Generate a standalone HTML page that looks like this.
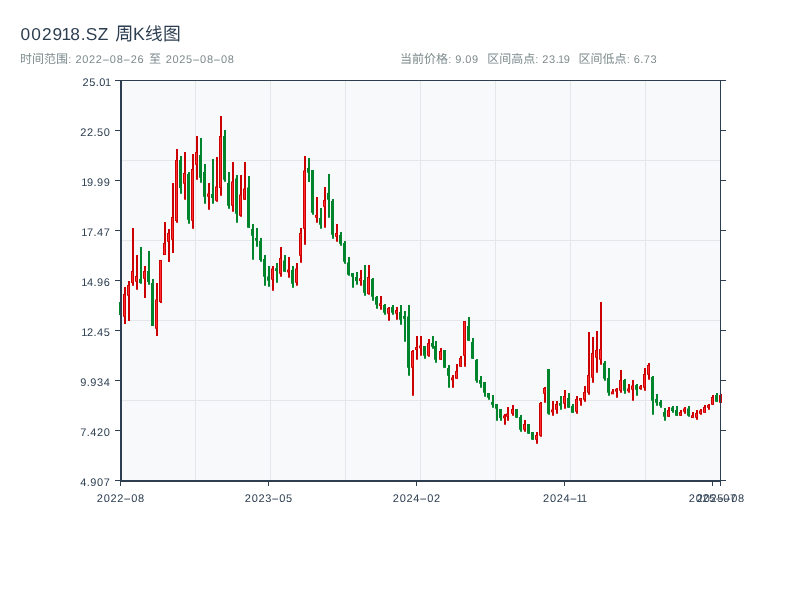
<!DOCTYPE html>
<html lang="zh"><head><meta charset="utf-8"><title>002918.SZ 周K线图</title>
<style>html,body{margin:0;padding:0;background:#fff;}body{width:800px;height:600px;overflow:hidden;font-family:"Liberation Sans",sans-serif;}svg{display:block;will-change:transform}svg text{font-family:"Liberation Sans","Noto Sans CJK SC",sans-serif;white-space:pre}svg path{shape-rendering:geometricPrecision}</style>
</head><body>
<svg width="800" height="600" viewBox="0 0 800 600" font-family="Liberation Sans, sans-serif" shape-rendering="crispEdges" text-rendering="geometricPrecision"><rect x="120" y="80" width="600" height="400" fill="#f8f9fa"/>
<rect x="195" y="80" width="1" height="400" fill="#e3e6ea"/>
<rect x="270" y="80" width="1" height="400" fill="#e3e6ea"/>
<rect x="345" y="80" width="1" height="400" fill="#e3e6ea"/>
<rect x="420" y="80" width="1" height="400" fill="#e3e6ea"/>
<rect x="495" y="80" width="1" height="400" fill="#e3e6ea"/>
<rect x="570" y="80" width="1" height="400" fill="#e3e6ea"/>
<rect x="645" y="80" width="1" height="400" fill="#e3e6ea"/>
<rect x="120" y="160" width="600" height="1" fill="#e3e6ea"/>
<rect x="120" y="240" width="600" height="1" fill="#e3e6ea"/>
<rect x="120" y="320" width="600" height="1" fill="#e3e6ea"/>
<rect x="120" y="400" width="600" height="1" fill="#e3e6ea"/>
<g shape-rendering="geometricPrecision"><rect x="120" y="300.0" width="2" height="17.00" fill="#00852c"/><rect x="119" y="302.00" width="3" height="13.00" fill="#00852c"/><rect x="124" y="287.0" width="2" height="37.00" fill="#cc0000"/><rect x="123" y="294.00" width="3" height="22.75" fill="#cc0000"/><rect x="124" y="294.90" width="1" height="20.95" fill="#ff2d2d"/><rect x="128" y="281.0" width="2" height="40.00" fill="#cc0000"/><rect x="127" y="285.00" width="3" height="10.75" fill="#cc0000"/><rect x="128" y="285.90" width="1" height="8.95" fill="#ff2d2d"/><rect x="132" y="228.0" width="2" height="57.75" fill="#cc0000"/><rect x="131" y="271.00" width="3" height="12.00" fill="#cc0000"/><rect x="132" y="271.90" width="1" height="10.20" fill="#ff2d2d"/><rect x="136" y="255.0" width="2" height="34.75" fill="#cc0000"/><rect x="135" y="276.00" width="3" height="5.75" fill="#cc0000"/><rect x="136" y="276.90" width="1" height="3.95" fill="#ff2d2d"/><rect x="140" y="247.0" width="2" height="36.75" fill="#00852c"/><rect x="139" y="279.00" width="3" height="4.00" fill="#00852c"/><rect x="144" y="266.0" width="2" height="32.00" fill="#cc0000"/><rect x="143" y="271.00" width="3" height="7.75" fill="#cc0000"/><rect x="144" y="271.90" width="1" height="5.95" fill="#ff2d2d"/><rect x="148" y="251.0" width="2" height="33.75" fill="#00852c"/><rect x="147" y="271.00" width="3" height="11.00" fill="#00852c"/><rect x="152" y="279.0" width="2" height="47.00" fill="#00852c"/><rect x="151" y="283.00" width="3" height="43.00" fill="#00852c"/><rect x="156" y="283.0" width="2" height="53.00" fill="#cc0000"/><rect x="155" y="299.50" width="3" height="29.25" fill="#cc0000"/><rect x="156" y="300.40" width="1" height="27.45" fill="#ff2d2d"/><rect x="160" y="260.0" width="2" height="43.00" fill="#cc0000"/><rect x="159" y="260.00" width="3" height="42.00" fill="#cc0000"/><rect x="160" y="260.90" width="1" height="40.20" fill="#ff2d2d"/><rect x="164" y="222.0" width="2" height="33.00" fill="#cc0000"/><rect x="163" y="243.00" width="3" height="12.00" fill="#cc0000"/><rect x="164" y="243.90" width="1" height="10.20" fill="#ff2d2d"/><rect x="168" y="229.0" width="2" height="33.00" fill="#cc0000"/><rect x="167" y="233.00" width="3" height="8.75" fill="#cc0000"/><rect x="168" y="233.90" width="1" height="6.95" fill="#ff2d2d"/><rect x="172" y="183.0" width="2" height="70.00" fill="#cc0000"/><rect x="171" y="217.00" width="3" height="22.75" fill="#cc0000"/><rect x="172" y="217.90" width="1" height="20.95" fill="#ff2d2d"/><rect x="176" y="149.0" width="2" height="73.75" fill="#cc0000"/><rect x="175" y="160.00" width="3" height="61.00" fill="#cc0000"/><rect x="176" y="160.90" width="1" height="59.20" fill="#ff2d2d"/><rect x="180" y="156.0" width="2" height="37.75" fill="#00852c"/><rect x="179" y="160.00" width="3" height="28.00" fill="#00852c"/><rect x="184" y="152.0" width="2" height="47.75" fill="#cc0000"/><rect x="183" y="173.00" width="3" height="10.75" fill="#cc0000"/><rect x="184" y="173.90" width="1" height="8.95" fill="#ff2d2d"/><rect x="188" y="172.0" width="2" height="51.75" fill="#00852c"/><rect x="187" y="174.00" width="3" height="45.75" fill="#00852c"/><rect x="192" y="154.0" width="2" height="74.75" fill="#cc0000"/><rect x="191" y="169.00" width="3" height="51.75" fill="#cc0000"/><rect x="192" y="169.90" width="1" height="49.95" fill="#ff2d2d"/><rect x="196" y="136.0" width="2" height="43.75" fill="#cc0000"/><rect x="195" y="152.00" width="3" height="12.75" fill="#cc0000"/><rect x="196" y="152.90" width="1" height="10.95" fill="#ff2d2d"/><rect x="200" y="138.0" width="2" height="44.75" fill="#00852c"/><rect x="199" y="155.00" width="3" height="22.75" fill="#00852c"/><rect x="204" y="164.0" width="2" height="39.75" fill="#00852c"/><rect x="203" y="172.00" width="3" height="24.75" fill="#00852c"/><rect x="208" y="183.0" width="2" height="26.75" fill="#cc0000"/><rect x="207" y="193.50" width="3" height="3.25" fill="#cc0000"/><rect x="208" y="194.40" width="1" height="1.45" fill="#ff2d2d"/><rect x="212" y="159.0" width="2" height="44.75" fill="#00852c"/><rect x="211" y="194.00" width="3" height="4.00" fill="#00852c"/><rect x="216" y="157.0" width="2" height="44.75" fill="#cc0000"/><rect x="215" y="186.50" width="3" height="14.25" fill="#cc0000"/><rect x="216" y="187.40" width="1" height="12.45" fill="#ff2d2d"/><rect x="220" y="116.0" width="2" height="79.75" fill="#cc0000"/><rect x="219" y="136.00" width="3" height="52.00" fill="#cc0000"/><rect x="220" y="136.90" width="1" height="50.20" fill="#ff2d2d"/><rect x="224" y="130.0" width="2" height="51.75" fill="#00852c"/><rect x="223" y="136.00" width="3" height="43.75" fill="#00852c"/><rect x="228" y="172.0" width="2" height="36.75" fill="#00852c"/><rect x="227" y="183.00" width="3" height="22.75" fill="#00852c"/><rect x="232" y="162.0" width="2" height="49.75" fill="#cc0000"/><rect x="231" y="181.50" width="3" height="24.25" fill="#cc0000"/><rect x="232" y="182.40" width="1" height="22.45" fill="#ff2d2d"/><rect x="236" y="175.0" width="2" height="47.75" fill="#00852c"/><rect x="235" y="178.50" width="3" height="35.25" fill="#00852c"/><rect x="240" y="175.0" width="2" height="41.75" fill="#cc0000"/><rect x="239" y="194.50" width="3" height="21.25" fill="#cc0000"/><rect x="240" y="195.40" width="1" height="19.45" fill="#ff2d2d"/><rect x="244" y="162.0" width="2" height="37.75" fill="#cc0000"/><rect x="243" y="188.50" width="3" height="11.25" fill="#cc0000"/><rect x="244" y="189.40" width="1" height="9.45" fill="#ff2d2d"/><rect x="248" y="176.0" width="2" height="51.75" fill="#00852c"/><rect x="247" y="187.50" width="3" height="40.25" fill="#00852c"/><rect x="252" y="224.0" width="2" height="35.75" fill="#00852c"/><rect x="251" y="229.00" width="3" height="6.75" fill="#00852c"/><rect x="256" y="228.0" width="2" height="18.75" fill="#00852c"/><rect x="255" y="237.97" width="3" height="2.80" fill="#00852c"/><rect x="260" y="238.0" width="2" height="23.75" fill="#00852c"/><rect x="259" y="241.00" width="3" height="19.00" fill="#00852c"/><rect x="264" y="255.0" width="2" height="30.75" fill="#00852c"/><rect x="263" y="259.00" width="3" height="17.75" fill="#00852c"/><rect x="268" y="266.0" width="2" height="20.75" fill="#00852c"/><rect x="267" y="276.50" width="3" height="4.25" fill="#00852c"/><rect x="272" y="266.0" width="2" height="24.75" fill="#cc0000"/><rect x="271" y="268.50" width="3" height="11.25" fill="#cc0000"/><rect x="272" y="269.40" width="1" height="9.45" fill="#ff2d2d"/><rect x="276" y="263.0" width="2" height="19.75" fill="#00852c"/><rect x="275" y="268.23" width="3" height="2.80" fill="#00852c"/><rect x="280" y="247.0" width="2" height="29.75" fill="#cc0000"/><rect x="279" y="258.00" width="3" height="15.75" fill="#cc0000"/><rect x="280" y="258.90" width="1" height="13.95" fill="#ff2d2d"/><rect x="284" y="255.0" width="2" height="16.75" fill="#00852c"/><rect x="283" y="260.50" width="3" height="11.25" fill="#00852c"/><rect x="288" y="257.0" width="2" height="20.75" fill="#cc0000"/><rect x="287" y="269.60" width="3" height="2.80" fill="#cc0000"/><rect x="288" y="270.50" width="1" height="1.00" fill="#ff2d2d"/><rect x="292" y="266.0" width="2" height="21.75" fill="#00852c"/><rect x="291" y="270.00" width="3" height="13.75" fill="#00852c"/><rect x="296" y="263.0" width="2" height="22.75" fill="#cc0000"/><rect x="295" y="268.50" width="3" height="14.25" fill="#cc0000"/><rect x="296" y="269.40" width="1" height="12.45" fill="#ff2d2d"/><rect x="300" y="228.0" width="2" height="34.75" fill="#cc0000"/><rect x="299" y="233.00" width="3" height="22.75" fill="#cc0000"/><rect x="300" y="233.90" width="1" height="20.95" fill="#ff2d2d"/><rect x="304" y="156.0" width="2" height="88.75" fill="#cc0000"/><rect x="303" y="170.50" width="3" height="58.25" fill="#cc0000"/><rect x="304" y="171.40" width="1" height="56.45" fill="#ff2d2d"/><rect x="308" y="158.0" width="2" height="24.00" fill="#00852c"/><rect x="307" y="168.00" width="3" height="4.75" fill="#00852c"/><rect x="312" y="170.0" width="2" height="44.75" fill="#00852c"/><rect x="311" y="170.00" width="3" height="42.75" fill="#00852c"/><rect x="316" y="197.0" width="2" height="25.75" fill="#cc0000"/><rect x="315" y="214.97" width="3" height="2.80" fill="#cc0000"/><rect x="316" y="215.88" width="1" height="1.00" fill="#ff2d2d"/><rect x="320" y="208.0" width="2" height="20.75" fill="#00852c"/><rect x="319" y="218.00" width="3" height="6.75" fill="#00852c"/><rect x="324" y="187.0" width="2" height="40.75" fill="#cc0000"/><rect x="323" y="200.00" width="3" height="6.75" fill="#cc0000"/><rect x="324" y="200.90" width="1" height="4.95" fill="#ff2d2d"/><rect x="328" y="174.0" width="2" height="43.75" fill="#00852c"/><rect x="327" y="193.00" width="3" height="6.75" fill="#00852c"/><rect x="332" y="199.0" width="2" height="39.75" fill="#00852c"/><rect x="331" y="201.00" width="3" height="33.75" fill="#00852c"/><rect x="336" y="224.0" width="2" height="17.75" fill="#cc0000"/><rect x="335" y="233.00" width="3" height="3.75" fill="#cc0000"/><rect x="336" y="233.90" width="1" height="1.95" fill="#ff2d2d"/><rect x="340" y="232.0" width="2" height="13.75" fill="#00852c"/><rect x="339" y="235.00" width="3" height="8.75" fill="#00852c"/><rect x="344" y="241.0" width="2" height="22.75" fill="#00852c"/><rect x="343" y="243.00" width="3" height="18.75" fill="#00852c"/><rect x="348" y="257.0" width="2" height="18.75" fill="#00852c"/><rect x="347" y="262.50" width="3" height="12.25" fill="#00852c"/><rect x="352" y="273.0" width="2" height="14.75" fill="#00852c"/><rect x="351" y="273.00" width="3" height="3.75" fill="#00852c"/><rect x="356" y="272.0" width="2" height="12.75" fill="#00852c"/><rect x="355" y="277.00" width="3" height="4.00" fill="#00852c"/><rect x="360" y="270.0" width="2" height="15.75" fill="#cc0000"/><rect x="359" y="278.23" width="3" height="2.80" fill="#cc0000"/><rect x="360" y="279.12" width="1" height="1.00" fill="#ff2d2d"/><rect x="364" y="265.0" width="2" height="30.75" fill="#00852c"/><rect x="363" y="280.00" width="3" height="12.75" fill="#00852c"/><rect x="368" y="265.0" width="2" height="29.75" fill="#cc0000"/><rect x="367" y="277.00" width="3" height="17.00" fill="#cc0000"/><rect x="368" y="277.90" width="1" height="15.20" fill="#ff2d2d"/><rect x="372" y="278.0" width="2" height="22.75" fill="#00852c"/><rect x="371" y="279.00" width="3" height="17.75" fill="#00852c"/><rect x="376" y="296.0" width="2" height="12.75" fill="#00852c"/><rect x="375" y="297.00" width="3" height="7.75" fill="#00852c"/><rect x="380" y="296.0" width="2" height="13.75" fill="#cc0000"/><rect x="379" y="303.23" width="3" height="2.80" fill="#cc0000"/><rect x="380" y="304.12" width="1" height="1.00" fill="#ff2d2d"/><rect x="384" y="304.0" width="2" height="10.75" fill="#00852c"/><rect x="383" y="305.00" width="3" height="7.75" fill="#00852c"/><rect x="388" y="307.0" width="2" height="13.75" fill="#cc0000"/><rect x="387" y="308.00" width="3" height="5.75" fill="#cc0000"/><rect x="388" y="308.90" width="1" height="3.95" fill="#ff2d2d"/><rect x="392" y="305.0" width="2" height="9.75" fill="#00852c"/><rect x="391" y="307.00" width="3" height="5.75" fill="#00852c"/><rect x="396" y="307.0" width="2" height="12.75" fill="#cc0000"/><rect x="395" y="310.00" width="3" height="3.75" fill="#cc0000"/><rect x="396" y="310.90" width="1" height="1.95" fill="#ff2d2d"/><rect x="400" y="305.0" width="2" height="19.75" fill="#00852c"/><rect x="399" y="312.00" width="3" height="7.75" fill="#00852c"/><rect x="404" y="311.0" width="2" height="30.75" fill="#00852c"/><rect x="403" y="315.98" width="3" height="2.80" fill="#00852c"/><rect x="408" y="305.0" width="2" height="70.75" fill="#00852c"/><rect x="407" y="316.50" width="3" height="51.25" fill="#00852c"/><rect x="412" y="350.0" width="2" height="45.75" fill="#cc0000"/><rect x="411" y="351.00" width="3" height="16.75" fill="#cc0000"/><rect x="412" y="351.90" width="1" height="14.95" fill="#ff2d2d"/><rect x="416" y="336.0" width="2" height="23.75" fill="#cc0000"/><rect x="415" y="347.00" width="3" height="3.00" fill="#cc0000"/><rect x="416" y="347.90" width="1" height="1.20" fill="#ff2d2d"/><rect x="420" y="336.0" width="2" height="19.75" fill="#cc0000"/><rect x="419" y="345.48" width="3" height="2.80" fill="#cc0000"/><rect x="420" y="346.38" width="1" height="1.00" fill="#ff2d2d"/><rect x="424" y="346.0" width="2" height="12.75" fill="#00852c"/><rect x="423" y="346.00" width="3" height="9.75" fill="#00852c"/><rect x="428" y="339.0" width="2" height="17.75" fill="#cc0000"/><rect x="427" y="343.00" width="3" height="12.75" fill="#cc0000"/><rect x="428" y="343.90" width="1" height="10.95" fill="#ff2d2d"/><rect x="432" y="336.0" width="2" height="12.75" fill="#00852c"/><rect x="431" y="343.00" width="3" height="3.75" fill="#00852c"/><rect x="435" y="341.0" width="2" height="21.75" fill="#00852c"/><rect x="434" y="346.00" width="3" height="13.75" fill="#00852c"/><rect x="440" y="348.0" width="2" height="11.75" fill="#cc0000"/><rect x="439" y="351.00" width="3" height="8.75" fill="#cc0000"/><rect x="440" y="351.90" width="1" height="6.95" fill="#ff2d2d"/><rect x="444" y="350.0" width="2" height="17.75" fill="#00852c"/><rect x="443" y="350.00" width="3" height="17.75" fill="#00852c"/><rect x="448" y="365.0" width="2" height="22.75" fill="#00852c"/><rect x="447" y="368.00" width="3" height="7.75" fill="#00852c"/><rect x="452" y="375.0" width="2" height="12.75" fill="#cc0000"/><rect x="451" y="377.48" width="3" height="2.80" fill="#cc0000"/><rect x="452" y="378.38" width="1" height="1.00" fill="#ff2d2d"/><rect x="456" y="364.0" width="2" height="14.75" fill="#cc0000"/><rect x="455" y="371.00" width="3" height="7.75" fill="#cc0000"/><rect x="456" y="371.90" width="1" height="5.95" fill="#ff2d2d"/><rect x="460" y="356.0" width="2" height="10.75" fill="#cc0000"/><rect x="459" y="358.00" width="3" height="8.75" fill="#cc0000"/><rect x="460" y="358.90" width="1" height="6.95" fill="#ff2d2d"/><rect x="464" y="321.0" width="2" height="45.75" fill="#cc0000"/><rect x="463" y="321.00" width="3" height="34.75" fill="#cc0000"/><rect x="464" y="321.90" width="1" height="32.95" fill="#ff2d2d"/><rect x="468" y="317.0" width="2" height="23.75" fill="#00852c"/><rect x="467" y="326.00" width="3" height="14.75" fill="#00852c"/><rect x="472" y="338.0" width="2" height="20.75" fill="#00852c"/><rect x="471" y="342.00" width="3" height="16.75" fill="#00852c"/><rect x="476" y="359.0" width="2" height="23.75" fill="#00852c"/><rect x="475" y="360.00" width="3" height="20.75" fill="#00852c"/><rect x="480" y="376.0" width="2" height="11.75" fill="#00852c"/><rect x="479" y="380.00" width="3" height="3.75" fill="#00852c"/><rect x="484" y="382.0" width="2" height="14.75" fill="#00852c"/><rect x="483" y="382.00" width="3" height="10.75" fill="#00852c"/><rect x="488" y="393.0" width="2" height="6.75" fill="#00852c"/><rect x="487" y="393.00" width="3" height="4.75" fill="#00852c"/><rect x="492" y="395.0" width="2" height="12.75" fill="#00852c"/><rect x="491" y="401.98" width="3" height="2.80" fill="#00852c"/><rect x="496" y="404.0" width="2" height="16.75" fill="#00852c"/><rect x="495" y="404.00" width="3" height="4.75" fill="#00852c"/><rect x="500" y="409.0" width="2" height="11.75" fill="#00852c"/><rect x="499" y="409.00" width="3" height="9.00" fill="#00852c"/><rect x="504" y="414.0" width="2" height="10.75" fill="#cc0000"/><rect x="503" y="415.48" width="3" height="2.80" fill="#cc0000"/><rect x="504" y="416.38" width="1" height="1.00" fill="#ff2d2d"/><rect x="507" y="407.0" width="2" height="13.75" fill="#cc0000"/><rect x="506" y="413.50" width="3" height="3.25" fill="#cc0000"/><rect x="507" y="414.40" width="1" height="1.45" fill="#ff2d2d"/><rect x="512" y="405.0" width="2" height="10.75" fill="#cc0000"/><rect x="511" y="409.00" width="3" height="4.75" fill="#cc0000"/><rect x="512" y="409.90" width="1" height="2.95" fill="#ff2d2d"/><rect x="516" y="409.0" width="2" height="8.75" fill="#00852c"/><rect x="515" y="409.00" width="3" height="8.75" fill="#00852c"/><rect x="520" y="415.0" width="2" height="16.75" fill="#00852c"/><rect x="519" y="417.00" width="3" height="12.75" fill="#00852c"/><rect x="524" y="420.0" width="2" height="11.75" fill="#cc0000"/><rect x="523" y="424.00" width="3" height="5.75" fill="#cc0000"/><rect x="524" y="424.90" width="1" height="3.95" fill="#ff2d2d"/><rect x="528" y="424.0" width="2" height="9.75" fill="#00852c"/><rect x="527" y="424.00" width="3" height="9.75" fill="#00852c"/><rect x="532" y="432.0" width="2" height="7.75" fill="#00852c"/><rect x="531" y="432.00" width="3" height="7.75" fill="#00852c"/><rect x="536" y="432.0" width="2" height="11.75" fill="#cc0000"/><rect x="535" y="435.00" width="3" height="4.75" fill="#cc0000"/><rect x="536" y="435.90" width="1" height="2.95" fill="#ff2d2d"/><rect x="540" y="402.0" width="2" height="34.75" fill="#cc0000"/><rect x="539" y="403.00" width="3" height="32.75" fill="#cc0000"/><rect x="540" y="403.90" width="1" height="30.95" fill="#ff2d2d"/><rect x="544" y="387.0" width="2" height="15.75" fill="#cc0000"/><rect x="543" y="388.00" width="3" height="5.75" fill="#cc0000"/><rect x="544" y="388.90" width="1" height="3.95" fill="#ff2d2d"/><rect x="548" y="369.0" width="2" height="45.75" fill="#00852c"/><rect x="547" y="369.00" width="3" height="44.75" fill="#00852c"/><rect x="552" y="401.0" width="2" height="14.75" fill="#cc0000"/><rect x="551" y="409.48" width="3" height="2.80" fill="#cc0000"/><rect x="552" y="410.38" width="1" height="1.00" fill="#ff2d2d"/><rect x="556" y="401.0" width="2" height="12.75" fill="#cc0000"/><rect x="555" y="404.00" width="3" height="5.75" fill="#cc0000"/><rect x="556" y="404.90" width="1" height="3.95" fill="#ff2d2d"/><rect x="560" y="396.0" width="2" height="13.75" fill="#00852c"/><rect x="559" y="402.98" width="3" height="2.80" fill="#00852c"/><rect x="564" y="390.0" width="2" height="18.75" fill="#cc0000"/><rect x="563" y="396.00" width="3" height="7.75" fill="#cc0000"/><rect x="564" y="396.90" width="1" height="5.95" fill="#ff2d2d"/><rect x="568" y="393.0" width="2" height="14.75" fill="#00852c"/><rect x="567" y="398.00" width="3" height="9.75" fill="#00852c"/><rect x="572" y="404.0" width="2" height="9.00" fill="#00852c"/><rect x="571" y="406.00" width="3" height="6.75" fill="#00852c"/><rect x="576" y="396.0" width="2" height="17.75" fill="#cc0000"/><rect x="575" y="399.00" width="3" height="12.75" fill="#cc0000"/><rect x="576" y="399.90" width="1" height="10.95" fill="#ff2d2d"/><rect x="580" y="398.0" width="2" height="7.75" fill="#cc0000"/><rect x="579" y="397.98" width="3" height="2.80" fill="#cc0000"/><rect x="580" y="398.88" width="1" height="1.00" fill="#ff2d2d"/><rect x="584" y="386.0" width="2" height="15.75" fill="#cc0000"/><rect x="583" y="392.00" width="3" height="7.75" fill="#cc0000"/><rect x="584" y="392.90" width="1" height="5.95" fill="#ff2d2d"/><rect x="588" y="332.0" width="2" height="62.75" fill="#cc0000"/><rect x="587" y="375.00" width="3" height="17.75" fill="#cc0000"/><rect x="588" y="375.90" width="1" height="15.95" fill="#ff2d2d"/><rect x="592" y="337.0" width="2" height="45.75" fill="#cc0000"/><rect x="591" y="353.00" width="3" height="24.75" fill="#cc0000"/><rect x="592" y="353.90" width="1" height="22.95" fill="#ff2d2d"/><rect x="596" y="331.0" width="2" height="41.75" fill="#cc0000"/><rect x="595" y="350.00" width="3" height="7.75" fill="#cc0000"/><rect x="596" y="350.90" width="1" height="5.95" fill="#ff2d2d"/><rect x="600" y="302.0" width="2" height="62.75" fill="#cc0000"/><rect x="599" y="349.00" width="3" height="10.75" fill="#cc0000"/><rect x="600" y="349.90" width="1" height="8.95" fill="#ff2d2d"/><rect x="604" y="361.0" width="2" height="19.75" fill="#00852c"/><rect x="603" y="363.00" width="3" height="15.75" fill="#00852c"/><rect x="608" y="368.0" width="2" height="27.75" fill="#00852c"/><rect x="607" y="378.00" width="3" height="14.75" fill="#00852c"/><rect x="612" y="389.0" width="2" height="4.75" fill="#cc0000"/><rect x="611" y="391.48" width="3" height="2.80" fill="#cc0000"/><rect x="612" y="392.38" width="1" height="1.00" fill="#ff2d2d"/><rect x="616" y="388.0" width="2" height="9.75" fill="#cc0000"/><rect x="615" y="388.85" width="3" height="2.80" fill="#cc0000"/><rect x="616" y="389.75" width="1" height="1.00" fill="#ff2d2d"/><rect x="620" y="370.0" width="2" height="22.75" fill="#cc0000"/><rect x="619" y="380.00" width="3" height="10.75" fill="#cc0000"/><rect x="620" y="380.90" width="1" height="8.95" fill="#ff2d2d"/><rect x="624" y="379.0" width="2" height="14.75" fill="#00852c"/><rect x="623" y="380.00" width="3" height="10.75" fill="#00852c"/><rect x="628" y="384.0" width="2" height="8.75" fill="#cc0000"/><rect x="627" y="388.48" width="3" height="2.80" fill="#cc0000"/><rect x="628" y="389.38" width="1" height="1.00" fill="#ff2d2d"/><rect x="632" y="380.0" width="2" height="20.75" fill="#cc0000"/><rect x="631" y="385.50" width="3" height="4.25" fill="#cc0000"/><rect x="632" y="386.40" width="1" height="2.45" fill="#ff2d2d"/><rect x="636" y="384.0" width="2" height="11.75" fill="#00852c"/><rect x="635" y="385.00" width="3" height="4.75" fill="#00852c"/><rect x="640" y="385.0" width="2" height="4.75" fill="#cc0000"/><rect x="639" y="386.23" width="3" height="2.80" fill="#cc0000"/><rect x="640" y="387.12" width="1" height="1.00" fill="#ff2d2d"/><rect x="644" y="368.0" width="2" height="22.75" fill="#cc0000"/><rect x="643" y="374.00" width="3" height="13.75" fill="#cc0000"/><rect x="644" y="374.90" width="1" height="11.95" fill="#ff2d2d"/><rect x="648" y="363.0" width="2" height="16.75" fill="#cc0000"/><rect x="647" y="365.00" width="3" height="9.75" fill="#cc0000"/><rect x="648" y="365.90" width="1" height="7.95" fill="#ff2d2d"/><rect x="652" y="376.0" width="2" height="38.75" fill="#00852c"/><rect x="651" y="377.00" width="3" height="23.75" fill="#00852c"/><rect x="656" y="394.0" width="2" height="11.75" fill="#00852c"/><rect x="655" y="399.00" width="3" height="3.75" fill="#00852c"/><rect x="660" y="400.0" width="2" height="7.75" fill="#00852c"/><rect x="659" y="402.00" width="3" height="3.75" fill="#00852c"/><rect x="664" y="408.0" width="2" height="12.75" fill="#00852c"/><rect x="663" y="412.00" width="3" height="4.75" fill="#00852c"/><rect x="668" y="407.0" width="2" height="9.75" fill="#cc0000"/><rect x="667" y="410.00" width="3" height="6.75" fill="#cc0000"/><rect x="668" y="410.90" width="1" height="4.95" fill="#ff2d2d"/><rect x="672" y="406.0" width="2" height="6.75" fill="#00852c"/><rect x="671" y="407.50" width="3" height="3.50" fill="#00852c"/><rect x="676" y="406.0" width="2" height="9.75" fill="#00852c"/><rect x="675" y="410.00" width="3" height="5.75" fill="#00852c"/><rect x="680" y="410.0" width="2" height="5.75" fill="#cc0000"/><rect x="679" y="412.00" width="3" height="3.75" fill="#cc0000"/><rect x="680" y="412.90" width="1" height="1.95" fill="#ff2d2d"/><rect x="684" y="407.0" width="2" height="6.75" fill="#cc0000"/><rect x="683" y="408.50" width="3" height="3.25" fill="#cc0000"/><rect x="684" y="409.40" width="1" height="1.45" fill="#ff2d2d"/><rect x="688" y="406.0" width="2" height="10.75" fill="#00852c"/><rect x="687" y="408.50" width="3" height="7.25" fill="#00852c"/><rect x="692" y="412.0" width="2" height="5.75" fill="#cc0000"/><rect x="691" y="415.23" width="3" height="2.80" fill="#cc0000"/><rect x="692" y="416.12" width="1" height="1.00" fill="#ff2d2d"/><rect x="696" y="410.0" width="2" height="9.75" fill="#cc0000"/><rect x="695" y="413.00" width="3" height="4.75" fill="#cc0000"/><rect x="696" y="413.90" width="1" height="2.95" fill="#ff2d2d"/><rect x="700" y="409.0" width="2" height="5.75" fill="#cc0000"/><rect x="699" y="410.50" width="3" height="3.25" fill="#cc0000"/><rect x="700" y="411.40" width="1" height="1.45" fill="#ff2d2d"/><rect x="704" y="405.0" width="2" height="7.75" fill="#cc0000"/><rect x="703" y="407.00" width="3" height="5.75" fill="#cc0000"/><rect x="704" y="407.90" width="1" height="3.95" fill="#ff2d2d"/><rect x="708" y="404.0" width="2" height="5.75" fill="#cc0000"/><rect x="707" y="404.98" width="3" height="2.80" fill="#cc0000"/><rect x="708" y="405.88" width="1" height="1.00" fill="#ff2d2d"/><rect x="712" y="395.0" width="2" height="9.75" fill="#cc0000"/><rect x="711" y="397.00" width="3" height="7.75" fill="#cc0000"/><rect x="712" y="397.90" width="1" height="5.95" fill="#ff2d2d"/><rect x="716" y="393.0" width="2" height="8.75" fill="#00852c"/><rect x="715" y="395.00" width="3" height="6.75" fill="#00852c"/><rect x="720" y="394.0" width="2" height="8.75" fill="#cc0000"/><rect x="719" y="395.00" width="3" height="7.75" fill="#cc0000"/><rect x="720" y="395.90" width="1" height="5.95" fill="#ff2d2d"/></g>
<rect x="115" y="80" width="611" height="1" fill="#2c3e50"/>
<rect x="720" y="80" width="1" height="402" fill="#2c3e50"/>
<rect x="120" y="80" width="2" height="402" fill="#2c3e50"/>
<rect x="120" y="480" width="601" height="2" fill="#2c3e50"/>
<rect x="115" y="80" width="5" height="1" fill="#2c3e50"/>
<rect x="721" y="80" width="5" height="1" fill="#2c3e50"/>
<rect x="115" y="130" width="5" height="1" fill="#2c3e50"/>
<rect x="721" y="130" width="5" height="1" fill="#2c3e50"/>
<rect x="115" y="180" width="5" height="1" fill="#2c3e50"/>
<rect x="721" y="180" width="5" height="1" fill="#2c3e50"/>
<rect x="115" y="230" width="5" height="1" fill="#2c3e50"/>
<rect x="721" y="230" width="5" height="1" fill="#2c3e50"/>
<rect x="115" y="280" width="5" height="1" fill="#2c3e50"/>
<rect x="721" y="280" width="5" height="1" fill="#2c3e50"/>
<rect x="115" y="330" width="5" height="1" fill="#2c3e50"/>
<rect x="721" y="330" width="5" height="1" fill="#2c3e50"/>
<rect x="115" y="380" width="5" height="1" fill="#2c3e50"/>
<rect x="721" y="380" width="5" height="1" fill="#2c3e50"/>
<rect x="115" y="430" width="5" height="1" fill="#2c3e50"/>
<rect x="721" y="430" width="5" height="1" fill="#2c3e50"/>
<rect x="115" y="480" width="5" height="1" fill="#2c3e50"/>
<rect x="721" y="480" width="5" height="1" fill="#2c3e50"/>
<rect x="120" y="482" width="1" height="4" fill="#2c3e50"/>
<rect x="268" y="482" width="1" height="4" fill="#2c3e50"/>
<rect x="416" y="482" width="1" height="4" fill="#2c3e50"/>
<rect x="564" y="482" width="1" height="4" fill="#2c3e50"/>
<rect x="712" y="482" width="1" height="4" fill="#2c3e50"/>
<rect x="720" y="482" width="1" height="4" fill="#2c3e50"/>
<text x="82.46 89.25 95.82 99.34 104.99" y="85.50" font-size="11" fill="#2c3e50">25.01</text>
<text x="80.19 86.97 93.55 97.06 103.85" y="135.50" font-size="11" fill="#2c3e50">22.50</text>
<text x="81.33 86.97 93.55 97.06 103.85" y="185.50" font-size="11" fill="#2c3e50">19.99</text>
<text x="81.33 86.97 93.55 97.06 103.85" y="235.50" font-size="11" fill="#2c3e50">17.47</text>
<text x="81.33 86.97 93.55 97.06 103.85" y="285.50" font-size="11" fill="#2c3e50">14.96</text>
<text x="81.33 86.97 93.55 97.06 103.85" y="335.50" font-size="11" fill="#2c3e50">12.45</text>
<text x="80.19 86.76 90.27 97.06 103.85" y="385.50" font-size="11" fill="#2c3e50">9.934</text>
<text x="80.19 86.76 90.27 97.06 103.85" y="435.50" font-size="11" fill="#2c3e50">7.420</text>
<text x="80.19 86.76 90.27 97.06 103.85" y="485.50" font-size="11" fill="#2c3e50">4.907</text>
<text x="96.84 103.63 110.42 117.20 123.34 131.25 138.04" y="502.30" font-size="11" fill="#2c3e50">2022<tspan textLength="7.89" lengthAdjust="spacingAndGlyphs">-</tspan>08</text>
<text x="244.84 251.63 258.42 265.20 271.34 279.25 286.04" y="502.30" font-size="11" fill="#2c3e50">2023<tspan textLength="7.89" lengthAdjust="spacingAndGlyphs">-</tspan>05</text>
<text x="392.84 399.63 406.42 413.20 419.34 427.25 434.04" y="502.30" font-size="11" fill="#2c3e50">2024<tspan textLength="7.89" lengthAdjust="spacingAndGlyphs">-</tspan>02</text>
<text x="543.12 549.91 556.69 563.48 569.62 576.39 580.90" y="502.30" font-size="11" fill="#2c3e50">2024<tspan textLength="7.89" lengthAdjust="spacingAndGlyphs">-</tspan>11</text>
<text x="688.84 695.63 702.42 709.20 715.34 723.25 730.04" y="502.30" font-size="11" fill="#2c3e50">2025<tspan textLength="7.89" lengthAdjust="spacingAndGlyphs">-</tspan>07</text>
<text x="696.84 703.63 710.42 717.20 723.34 731.25 738.04" y="502.30" font-size="11" fill="#2c3e50">2025<tspan textLength="7.89" lengthAdjust="spacingAndGlyphs">-</tspan>08</text>
<text x="20.53 31.22 41.91 52.61 61.48 70.35 80.73 85.76 97.77" y="39.80" font-size="17.33" fill="#2c3e50">002918.SZ</text>
<text x="115.30" y="40.10" font-size="18.2" fill="#2c3e50">周</text>
<text x="144.97" y="40.10" font-size="17.6" fill="#2c3e50">线</text>
<text x="163.00" y="40.10" font-size="17.8" fill="#2c3e50">图</text>
<text x="133.1" y="39.8" font-size="17.8" fill="#2c3e50">K</text>
<text x="20.00" y="63.30" font-size="12" fill="#7f8c8d">时间范围</text><text x="68.17" y="62.70" font-size="11" fill="#7f8c8d">:</text>
<text x="75.43 82.22 89.01 95.80 101.93 109.84 116.63 122.77 130.68 137.46" y="62.70" font-size="11" fill="#7f8c8d">2022<tspan textLength="7.89" lengthAdjust="spacingAndGlyphs">-</tspan>08<tspan textLength="7.89" lengthAdjust="spacingAndGlyphs">-</tspan>26</text>
<text x="148.90" y="63.30" font-size="12" fill="#7f8c8d">至</text>
<text x="165.68 172.47 179.26 186.05 192.18 200.09 206.88 213.02 220.93 227.71" y="62.70" font-size="11" fill="#7f8c8d">2025<tspan textLength="7.89" lengthAdjust="spacingAndGlyphs">-</tspan>08<tspan textLength="7.89" lengthAdjust="spacingAndGlyphs">-</tspan>08</text>
<text x="400.00" y="63.30" font-size="12" fill="#7f8c8d">当前价格</text><text x="448.17 455.13 461.71 465.22 472.01" y="62.70" font-size="11" fill="#7f8c8d">:9.09</text>
<text x="487.20" y="63.30" font-size="12" fill="#7f8c8d">区间高点</text><text x="535.37 542.33 549.12 555.70 558.07 563.72" y="62.70" font-size="11" fill="#7f8c8d">:23.19</text>
<text x="578.60" y="63.30" font-size="12" fill="#7f8c8d">区间低点</text><text x="626.77 633.73 640.31 643.82 650.61" y="62.70" font-size="11" fill="#7f8c8d">:6.73</text></svg>
</body></html>
